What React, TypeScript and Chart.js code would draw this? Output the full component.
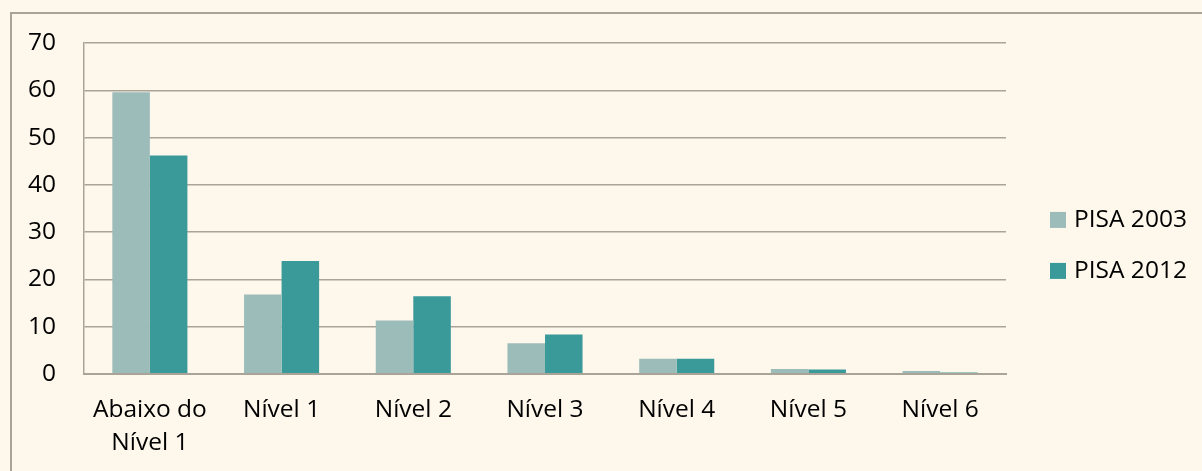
import React, { useEffect, useRef } from "react";
import { Chart, registerables } from "chart.js";

Chart.register(...registerables);

const categories: (string | string[])[] = [
  ["Abaixo do", "Nível 1"],
  "Nível 1",
  "Nível 2",
  "Nível 3",
  "Nível 4",
  "Nível 5",
  "Nível 6",
];
const seriesNames = ["PISA 2003", "PISA 2012"];
const pisa2003 = [59.6, 16.8, 11.3, 6.5, 3.2, 1.0, 0.6];
const pisa2012 = [46.2, 23.9, 16.4, 8.3, 3.2, 0.9, 0.3];
const yTicks = [0, 10, 20, 30, 40, 50, 60, 70];

const FONT = "'Open Sans', 'Noto Sans', sans-serif";
const FONT_SIZE = 24.5;
const GRID = "#aaa398";
const C2003 = "#9cbcb9";
const C2012 = "#3a9a9a";

const legendPlugin = {
  id: "customLegend",
  afterDraw(chart: any) {
    const { ctx, chartArea } = chart;
    const x = chartArea.right + 44;
    const midY = (chartArea.top + chartArea.bottom) / 2 + 37;
    const gap = 51;
    const ds = chart.data.datasets;
    ctx.save();
    ds.forEach((d: any, i: number) => {
      const cy = midY + (i - (ds.length - 1) / 2) * gap;
      ctx.fillStyle = d.backgroundColor;
      ctx.fillRect(x, cy - 8, 16, 16);
      ctx.fillStyle = "#000";
      ctx.font = `${FONT_SIZE}px ${FONT}`;
      ctx.textBaseline = "middle";
      ctx.textAlign = "left";
      ctx.fillText(d.label, x + 24, cy);
    });
    ctx.restore();
  },
};

export default function App() {
  const ref = useRef<HTMLCanvasElement | null>(null);

  useEffect(() => {
    if (!ref.current) return;
    const chart = new Chart(ref.current, {
      type: "bar",
      data: {
        labels: categories,
        datasets: [
          {
            label: seriesNames[0],
            data: pisa2003,
            backgroundColor: C2003,
            borderWidth: 0,
            categoryPercentage: 0.57,
            barPercentage: 1,
          },
          {
            label: seriesNames[1],
            data: pisa2012,
            backgroundColor: C2012,
            borderWidth: 0,
            categoryPercentage: 0.57,
            barPercentage: 1,
          },
        ],
      },
      options: {
        responsive: false,
        animation: false,
        layout: { padding: { left: 0, right: 196, top: 43, bottom: 0 } },
        plugins: {
          legend: { display: false },
          tooltip: { enabled: false },
        },
        scales: {
          x: {
            grid: { display: false, drawTicks: false },
            border: { display: true, color: GRID, width: 2 },
            ticks: {
              color: "#000",
              font: { family: FONT, size: FONT_SIZE, lineHeight: 1.35 },
              padding: 20,
              maxRotation: 0,
              autoSkip: false,
            },
          },
          y: {
            min: 0,
            max: 70,
            afterBuildTicks(axis: any) {
              axis.ticks = yTicks.map((v) => ({ value: v }));
            },
            grid: { color: GRID, lineWidth: 1.5, drawTicks: false },
            border: { display: true, color: GRID, width: 1.5 },
            ticks: {
              color: "#000",
              font: { family: FONT, size: FONT_SIZE },
              padding: 28,
            },
          },
        },
      },
      plugins: [legendPlugin],
    });
    return () => chart.destroy();
  }, []);

  return (
    <div
      style={{
        position: "fixed",
        left: 0,
        top: 0,
        width: 1202,
        height: 471,
        background: "#fef7eb",
        overflow: "hidden",
      }}
    >
      <div
        style={{
          position: "absolute",
          left: 10,
          top: 12,
          right: -10,
          bottom: -10,
          border: "2px solid #aaa398",
        }}
      />
      <canvas
        ref={ref}
        width={1202}
        height={480}
        style={{ position: "absolute", left: 0, top: 0, width: 1202, height: 480 }}
      />
    </div>
  );
}
